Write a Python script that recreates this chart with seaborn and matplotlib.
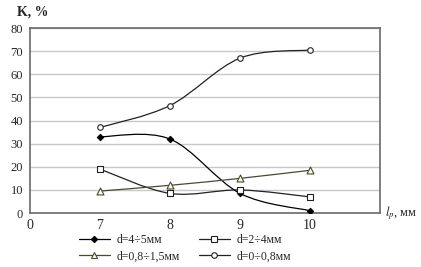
import numpy as np
import pandas as pd
import matplotlib
matplotlib.use("Agg")
import matplotlib.pyplot as plt
from matplotlib.path import Path
from matplotlib.patches import PathPatch
from matplotlib.lines import Line2D
import seaborn as sns

# data
x_labels = ["0", "7", "8", "9", "10"]
lp = ["7", "8", "9", "10"]
k_4_5 = [33, 32, 8.5, 1]
k_2_4 = [19, 8.5, 10, 7]
k_08_15 = [9.5, 12, 15, 18.5]
k_0_08 = [37, 46.5, 67, 70.5]
names = ["d=4÷5мм", "d=2÷4мм", "d=0,8÷1,5мм", "d=0÷0,8мм"]

series = [k_4_5, k_2_4, k_08_15, k_0_08]
markers = ["D", "s", "^", "o"]
faces = ["black", "white", "#fafae6", "white"]
edges = ["black", "#222222", "#4a4a30", "#222222"]
sizes = [3.2, 4.6, 5.0, 4.0]

sns.set_style("white")
plt.rcParams["font.family"] = ["Liberation Serif", "DejaVu Serif"]
plt.rcParams["mathtext.fontset"] = "stix"

fig = plt.figure(figsize=(4.21, 2.67), dpi=100)
ax = fig.add_axes([0.071, 0.202, 0.832, 0.693])

pos = {lab: i for i, lab in enumerate(x_labels)}


def smooth_path(xs, ys):
    # Excel-style smoothed line: Catmull-Rom converted to cubic Bezier
    pts = np.column_stack([xs, ys]).astype(float)
    verts = [pts[0]]
    codes = [Path.MOVETO]
    n = len(pts)
    for i in range(n - 1):
        p0 = pts[i - 1] if i > 0 else pts[i]
        p1 = pts[i]
        p2 = pts[i + 1]
        p3 = pts[i + 2] if i + 2 < n else pts[i + 1]
        c1 = p1 + (p2 - p0) / 6.0
        c2 = p2 - (p3 - p1) / 6.0
        verts += [c1, c2, p2]
        codes += [Path.CURVE4] * 3
    return Path(verts, codes)


handles = []
for vals, name, m, fc, ec, s in zip(series, names, markers, faces, edges, sizes):
    df = pd.DataFrame({"x": [pos[v] for v in lp], "K": vals})
    ax.add_patch(PathPatch(smooth_path(df["x"], df["K"]), fill=False,
                           edgecolor=ec, lw=0.9, zorder=2))
    sns.scatterplot(data=df, x="x", y="K", marker=m, s=s ** 2,
                    facecolor=fc, edgecolor=ec, linewidth=0.8, ax=ax,
                    zorder=3, legend=False)
    handles.append(Line2D([], [], color=ec, lw=0.9, marker=m, markersize=s,
                          markerfacecolor=fc, markeredgecolor=ec,
                          markeredgewidth=0.8, label=name))

ax.set_xlim(0, 5)
ax.set_ylim(0, 80)
ax.set_xticks(range(len(x_labels)))
ax.set_xticklabels(x_labels, fontsize=10)
ax.set_yticks(range(0, 81, 10))
ax.tick_params(axis="y", labelsize=9, length=3, width=0.8, color="#555555",
               pad=2)
ax.tick_params(axis="x", length=0, pad=4)
ax.yaxis.grid(True, color="#c8c8c8", lw=1)
ax.set_axisbelow(True)
for sp in ax.spines.values():
    sp.set_color("#6a6a6a")
    sp.set_linewidth(1.2)
ax.set_xlabel("")
ax.set_ylabel("")

fig.text(0.04, 0.955, "K, %", fontsize=10, fontweight="bold", va="center")
fig.text(0.915, 0.202, r"$l_p$" + ", мм", fontsize=9, va="center")

# legend fills column by column: put entries so rows read as in the original
order = [0, 2, 1, 3]
fig.legend(handles=[handles[i] for i in order], loc="center",
           bbox_to_anchor=(0.44, 0.07), ncol=2, frameon=False, fontsize=8.5,
           handlelength=2.6, columnspacing=1.6, handletextpad=0.6,
           labelspacing=0.35)

fig.savefig("out.png", dpi=100)
